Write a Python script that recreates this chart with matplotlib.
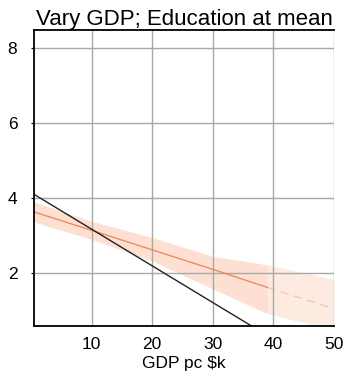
import matplotlib
matplotlib.use("Agg")
import matplotlib.pyplot as plt
import numpy as np

plt.rcParams['font.family'] = ['Liberation Sans', 'DejaVu Sans']

# Reference line
ref_x = [0.5, 36.4]
ref_y = [4.10, 0.59]

# Predicted values with confidence band (GDP pc in $k)
gdp = [0.5, 10, 20, 30, 39, 50]
pred = [3.63, 3.14, 2.62, 2.10, 1.62, 1.05]
upper = [3.90, 3.38, 2.95, 2.45, 2.22, 1.83]
lower = [3.36, 2.90, 2.32, 1.58, 0.92, 0.48]
observed_max = 39  # beyond this GDP the prediction is an extrapolation

x_ticks = [10, 20, 30, 40, 50]
y_ticks = [2, 4, 6, 8]

fig = plt.figure(figsize=(3.47, 3.84), dpi=100)
ax = fig.add_axes([0.098, 0.151, 0.8645, 0.771])

gdp = np.array(gdp); pred = np.array(pred)
upper = np.array(upper); lower = np.array(lower)
inside = gdp <= observed_max
outside = gdp >= observed_max

band_col = '#fdd9c7'
line_col = '#f4875f'
ax.fill_between(gdp[inside], lower[inside], upper[inside], color=band_col, alpha=0.8, lw=0, zorder=1)
ax.fill_between(gdp[outside], lower[outside], upper[outside], color=band_col, alpha=0.55, lw=0, zorder=1)
ax.plot(gdp[inside], pred[inside], color=line_col, lw=1.0, zorder=3)
ax.plot(gdp[outside], pred[outside], color=line_col, lw=1.0, alpha=0.35, ls=(0, (6, 4)), zorder=3)
ax.plot(ref_x, ref_y, color='#222222', lw=1.0, zorder=4)

ax.set_xlim(0.5, 50)
ax.set_ylim(0.59, 8.48)
ax.set_xticks(x_ticks)
ax.set_yticks(y_ticks)
ax.grid(True, color='#a8a8a8', lw=1.0, zorder=2)
ax.set_axisbelow(False)
for s in ['left', 'bottom', 'top']:
    ax.spines[s].set_color('black')
    ax.spines[s].set_linewidth(1.3)
    ax.spines[s].set_zorder(5)
ax.spines['right'].set_visible(False)
ax.tick_params(axis='both', length=2, labelsize=12.5, pad=4)
ax.tick_params(axis='x', length=0, pad=8)
ax.tick_params(axis='y', pad=10)
ax.set_xlabel('GDP pc $k', fontsize=12.5, labelpad=3)
ax.set_title('Vary GDP; Education at mean', fontsize=16, pad=2)

fig.savefig('out.png', dpi=100)
